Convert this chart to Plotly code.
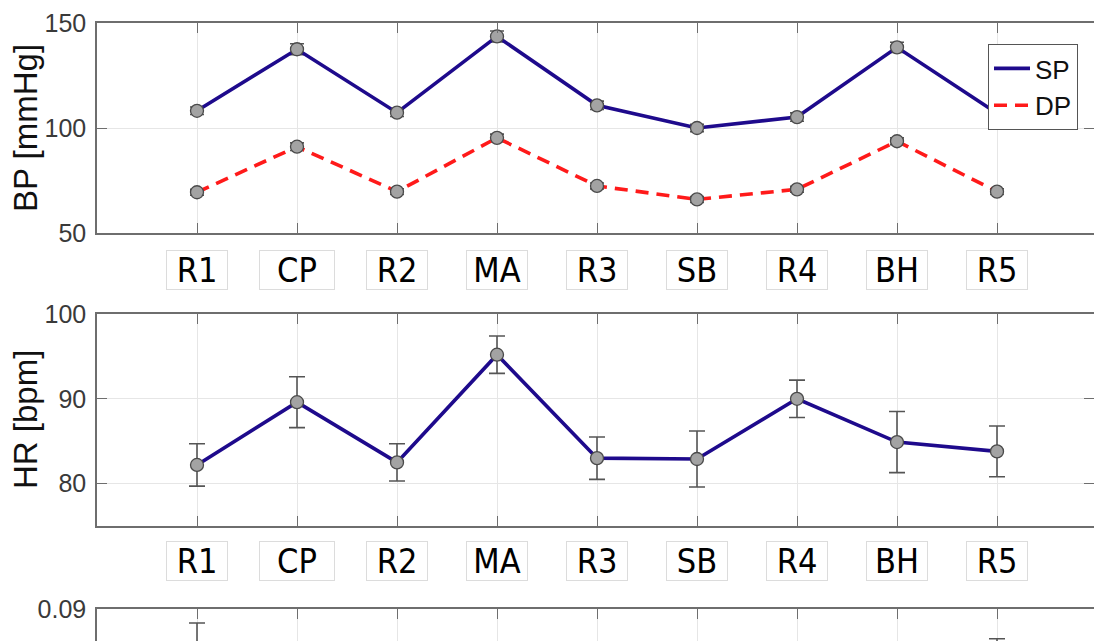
import plotly.graph_objects as go

# Experimental phases
phases = ["R1", "CP", "R2", "MA", "R3", "SB", "R4", "BH", "R5"]

# Blood pressure [mmHg]: mean and error per phase
sp_mean = [108.2, 137.5, 107.3, 143.6, 110.8, 100.0, 105.2, 138.4, 107.0]
sp_err = [1.8, 2.6, 1.8, 2.6, 2.0, 1.8, 2.0, 2.4, 2.0]
dp_mean = [69.4, 91.1, 69.7, 95.3, 72.4, 66.0, 70.8, 93.7, 69.7]
dp_err = [1.4, 1.8, 1.4, 1.8, 1.4, 1.4, 1.4, 1.6, 1.4]

# Heart rate [bpm]
hr_mean = [82.2, 89.6, 82.5, 95.2, 83.0, 82.9, 90.0, 84.9, 83.8]
hr_err = [2.5, 3.0, 2.2, 2.2, 2.5, 3.3, 2.2, 3.6, 3.0]

# Third measure (only the top of its panel is in view)
m3_mean = [0.074, 0.062, 0.068, 0.058, 0.066, 0.064, 0.067, 0.060, 0.073]
m3_err = [0.012, 0.008, 0.008, 0.009, 0.009, 0.010, 0.008, 0.010, 0.0085]

# Axis tick values
bp_ticks = [50, 100, 150]
hr_ticks = [80, 90, 100]
m3_ticks = [0.09]

x_pos = list(range(1, len(phases) + 1))

W, H = 1094, 641
L_MARGIN = 97
NAVY = "#1e0a8c"
RED = "#ff1a1a"
AXIS = "#6e6e6e"
GRID = "#e6e6e6"
LINE_W = 3.6
DASH = "13px,8px"
TICKFONT = dict(family="Liberation Sans, Arial, sans-serif", size=25, color="#3a3a3a")
LABELFONT = dict(family="Liberation Sans Narrow, DejaVu Sans Condensed, Roboto Condensed, Arial Narrow, sans-serif",
                 size=34, color="#000000")


def py(px):
    """Convert a pixel row (from top) to a paper fraction."""
    return 1 - px / H


marker = dict(symbol="circle", size=13, color="#a3a3a3", line=dict(color="#4a4a4a", width=1.3))


def err(vals, cap=7):
    return dict(type="data", array=vals, visible=True, color="#555555", thickness=1.6, width=cap)


fig = go.Figure()

# Top panel: systolic and diastolic pressure
fig.add_trace(go.Scatter(x=x_pos, y=sp_mean, error_y=err(sp_err), mode="lines+markers", name="SP",
                         showlegend=False, line=dict(color=NAVY, width=LINE_W), marker=marker,
                         xaxis="x", yaxis="y"))
fig.add_trace(go.Scatter(x=x_pos, y=dp_mean, error_y=err(dp_err), mode="lines+markers", name="DP",
                         showlegend=False, line=dict(color=RED, width=LINE_W, dash=DASH), marker=marker,
                         xaxis="x", yaxis="y"))

# Legend entries show the line style only
fig.add_trace(go.Scatter(x=[None], y=[None], mode="lines", name="SP", legendgroup="sp",
                         line=dict(color=NAVY, width=LINE_W), xaxis="x", yaxis="y"))
fig.add_trace(go.Scatter(x=[None], y=[None], mode="lines", name="DP", legendgroup="dp",
                         line=dict(color=RED, width=LINE_W, dash=DASH), xaxis="x", yaxis="y"))

# Middle panel: heart rate
fig.add_trace(go.Scatter(x=x_pos, y=hr_mean, error_y=err(hr_err, 8), mode="lines+markers", name="HR",
                         showlegend=False, line=dict(color=NAVY, width=LINE_W), marker=marker,
                         xaxis="x2", yaxis="y2"))

# Bottom panel
fig.add_trace(go.Scatter(x=x_pos, y=m3_mean, error_y=err(m3_err, 8), mode="lines+markers",
                         showlegend=False, line=dict(color=NAVY, width=LINE_W), marker=marker,
                         xaxis="x3", yaxis="y3"))

# Empty traces hosting the right-hand tick axes
fig.add_trace(go.Scatter(x=[], y=[], xaxis="x", yaxis="y4", showlegend=False, hoverinfo="skip"))
fig.add_trace(go.Scatter(x=[], y=[], xaxis="x2", yaxis="y5", showlegend=False, hoverinfo="skip"))

x_common = dict(range=[0, 9.97], tickvals=x_pos, showticklabels=False, ticks="inside", ticklen=10,
                tickcolor=AXIS, tickwidth=1.3, showgrid=True, gridcolor=GRID, gridwidth=1,
                showline=True, linecolor=AXIS, linewidth=1.5, zeroline=False, automargin=False)
y_common = dict(ticks="inside", ticklen=10, tickcolor=AXIS, tickwidth=1.3, showgrid=True, gridcolor=GRID,
                gridwidth=1, showline=True, linecolor=AXIS, linewidth=1.5, zeroline=False,
                tickfont=TICKFONT, ticklabelstandoff=4, automargin=False)
right_common = dict(side="right", ticks="inside", ticklen=10, tickcolor=AXIS, tickwidth=1.3,
                    showticklabels=False, showgrid=False, showline=False, zeroline=False, automargin=False)

dom1 = [py(233), py(23)]
dom2 = [py(526), py(314)]
dom3 = [0, py(609)]

# visible slice of the bottom panel (same pixel scale as a 0.03-0.09 axis over 210 px)
m3_top = 0.09
m3_bottom = m3_top - (H - 609) * (0.06 / 210)

fig.update_layout(
    width=W, height=H,
    margin=dict(l=L_MARGIN, r=0, t=0, b=0, pad=0, autoexpand=False),
    plot_bgcolor="white", paper_bgcolor="white",
    xaxis=dict(x_common, anchor="y", mirror="ticks"),
    yaxis=dict(y_common, domain=dom1, range=[50, 150], tickvals=bp_ticks, anchor="x"),
    xaxis2=dict(x_common, anchor="y2", mirror="ticks"),
    yaxis2=dict(y_common, domain=dom2, range=[75, 100], tickvals=hr_ticks, anchor="x2"),
    xaxis3=dict(x_common, anchor="y3", side="top"),
    yaxis3=dict(y_common, domain=dom3, range=[m3_bottom, m3_top], tickvals=m3_ticks, anchor="x3"),
    yaxis4=dict(right_common, overlaying="y", anchor="x", range=[50, 150], tickvals=bp_ticks),
    yaxis5=dict(right_common, overlaying="y2", anchor="x2", range=[75, 100], tickvals=hr_ticks),
    legend=dict(x=(988 - L_MARGIN) / (W - L_MARGIN), y=py(44), xanchor="left", yanchor="top",
                bgcolor="white", bordercolor="#555555", borderwidth=1,
                font=dict(family="Liberation Sans, Arial, sans-serif", size=26, color="#111111"),
                itemwidth=36, tracegroupgap=6, traceorder="normal"),
    showlegend=True,
)

# Y-axis titles
title_font = dict(family="Liberation Sans, Arial, sans-serif", size=33, color="#111111")
for text, dom in (("BP [mmHg]", dom1), ("HR [bpm]", dom2)):
    fig.add_annotation(text=text, xref="paper", yref="paper", x=(25 - L_MARGIN) / (W - L_MARGIN),
                       y=(dom[0] + dom[1]) / 2, textangle=-90, showarrow=False, font=title_font,
                       xanchor="center", yanchor="middle")

# Boxed phase labels under the top two panels
for row_y in (py(270), py(561)):
    for xp, name in zip(x_pos, phases):
        fig.add_annotation(text=name, x=xp, xref="x", y=row_y, yref="paper", showarrow=False,
                           font=LABELFONT, bgcolor="white", bordercolor="#dcdcdc", borderwidth=1,
                           borderpad=1, width=72 if name == "CP" else 58, height=36,
                           xanchor="center", yanchor="middle")

fig.write_html("out.html")
